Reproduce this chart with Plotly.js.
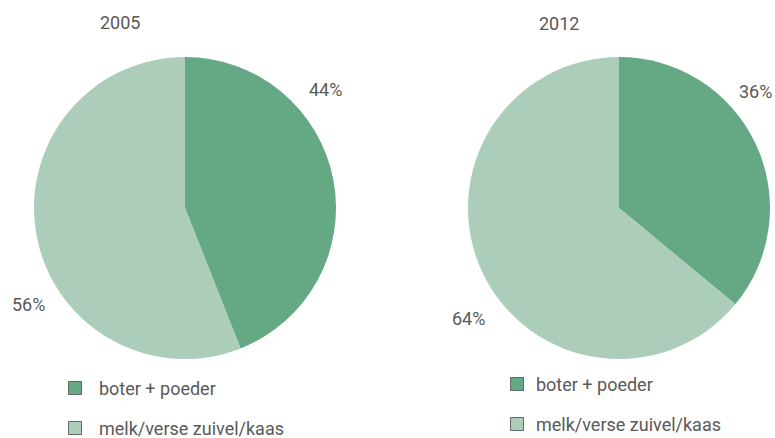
<!DOCTYPE html>
<html><head><meta charset="utf-8">
<script src="https://cdn.plot.ly/plotly-3.0.1.min.js"></script>
<style>html,body{margin:0;padding:0;background:#fff}#chart{width:775px;height:438px}</style>
</head><body><div id="chart"></div>
<script>
const categories = ["boter + poeder", "melk/verse zuivel/kaas"];
const years = ["2005", "2012"];
const values2005 = [44, 56];
const values2012 = [36, 64];
const colors = ["#64a884", "#abcdb9"];

const W = 775, H = 438;
const px = x => x / W, py = y => 1 - y / H;
const txtColor = "#595959";
const font = {family: "Roboto, 'Open Sans', sans-serif", size: 18, color: txtColor, weight: 400};

// pie geometry (layout only); label anchor: [x, y, xanchor]
const pies = [
  {vals: values2005, year: years[0], x0: 34, x1: 336, y0: 57, y1: 359,
   title: [120, 22], labelPos: [[325, 90, "center"], [28, 304, "center"]], legend: [75, 388, 97, 40]},
  {vals: values2012, year: years[1], x0: 468, x1: 770, y0: 57, y1: 359,
   title: [559, 23], labelPos: [[774, 91, "right"], [468, 318, "center"]], legend: [517, 384, 534, 40]}
];

const data = pies.map(p => ({
  type: "pie", labels: categories, values: p.vals, sort: false,
  direction: "clockwise", rotation: 0, textinfo: "none", hoverinfo: "label+percent",
  marker: {colors: colors, line: {width: 0}},
  domain: {x: [px(p.x0), px(p.x1)], y: [py(p.y1), py(p.y0)]},
  showlegend: false
}));

const annotations = [], shapes = [];
pies.forEach(p => {
  annotations.push({text: p.year, x: px(p.title[0]), y: py(p.title[1]), xref: "paper", yref: "paper",
    xanchor: "center", yanchor: "middle", showarrow: false, font: font});
  const total = p.vals.reduce((a, b) => a + b, 0);
  p.vals.forEach((v, i) => {
    const [lx, ly, anc] = p.labelPos[i];
    annotations.push({text: Math.round(v / total * 100) + "%", x: px(lx), y: py(ly),
      xref: "paper", yref: "paper", xanchor: anc, yanchor: "middle", showarrow: false, font: font});
  });
  const [mx, my, tx, gap] = p.legend;
  categories.forEach((c, i) => {
    const cy = my + i * gap;
    shapes.push({type: "rect", xref: "paper", yref: "paper",
      x0: px(mx - 6.5), x1: px(mx + 6.5), y0: py(cy + 6.5), y1: py(cy - 6.5),
      fillcolor: colors[i], line: {color: "#5f6a64", width: 1}});
    annotations.push({text: c, x: px(tx), y: py(cy), xref: "paper", yref: "paper",
      xanchor: "left", yanchor: "middle", showarrow: false, font: font});
  });
});

Plotly.newPlot("chart", data, {
  width: W, height: H, margin: {l: 0, r: 0, t: 0, b: 0},
  paper_bgcolor: "#ffffff", plot_bgcolor: "#ffffff",
  showlegend: false, annotations: annotations, shapes: shapes
}, {displayModeBar: false, staticPlot: true});
</script></body></html>
